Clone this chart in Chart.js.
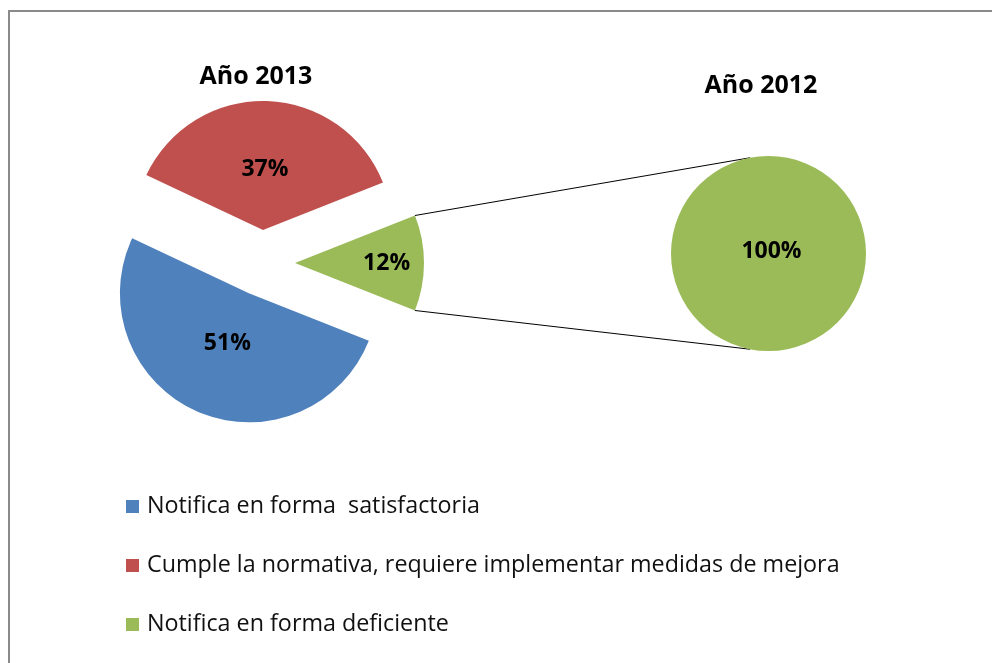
<!DOCTYPE html>
<html>
<head>
<meta charset="utf-8">
<script src="https://cdn.jsdelivr.net/npm/chart.js@4.4.1/dist/chart.umd.min.js"></script>
<style>
  html, body { margin: 0; padding: 0; background: #fff; width: 992px; height: 663px; overflow: hidden; }
  canvas { position: absolute; left: 0; top: 0; }
  .title { position: absolute; font: bold 25px "Open Sans", sans-serif; line-height: 30px; color: #000; transform: translateX(-50%); white-space: nowrap; }
  .item { position: absolute; left: 147px; font: 23.3px "Open Sans", sans-serif; line-height: 26px; color: #111; white-space: pre; }
  .mark { position: absolute; left: 126px; width: 13px; height: 13px; }
</style>
</head>
<body>
<canvas id="pie2013" width="992" height="663"></canvas>
<canvas id="pie2012" width="992" height="663"></canvas>
<div id="titles"></div>
<div id="legend"></div>
<script>
// data
const categories = ['Notifica en forma  satisfactoria', 'Cumple la normativa, requiere implementar medidas de mejora', 'Notifica en forma deficiente'];
const values2013 = [51, 37, 12];
const categories2012 = ['Notifica en forma deficiente'];
const values2012 = [100];
const titles = ['Año 2013', 'Año 2012'];
const colors = ['#4F81BD', '#C0504D', '#9BBB59'];

const explode = 33;           // px each slice of 2013 is pulled out
const labelFrac = [0.42, 0.47, 0.71];
const linkAngle = 100.9 * Math.PI / 180;

// grey chart-area frame (only top and left edges are inside the picture)
const framePlugin = {
  id: 'frame',
  beforeDraw(chart) {
    const ctx = chart.ctx;
    ctx.save();
    ctx.strokeStyle = '#8a8a8a';
    ctx.lineWidth = 2;
    ctx.beginPath();
    ctx.moveTo(9, chart.height);
    ctx.lineTo(9, 11);
    ctx.lineTo(chart.width, 11);
    ctx.stroke();
    ctx.restore();
  }
};

// pull slices out from the centre (like Excel's exploded pie)
const explodePlugin = {
  id: 'explode',
  afterDatasetUpdate(chart, args) {
    args.meta.data.forEach(arc => {
      const mid = (arc.startAngle + arc.endAngle) / 2;
      arc.x += Math.cos(mid) * explode;
      arc.y += Math.sin(mid) * explode;
    });
  }
};

const pctLabels = {
  id: 'pctLabels',
  afterDatasetsDraw(chart, args, opts) {
    const ctx = chart.ctx;
    const data = chart.data.datasets[0].data;
    const total = data.reduce((a, b) => a + b, 0);
    ctx.save();
    ctx.font = 'bold 23px "Open Sans"';
    ctx.fillStyle = '#000';
    ctx.textAlign = 'center';
    ctx.textBaseline = 'middle';
    chart.getDatasetMeta(0).data.forEach((arc, i) => {
      const mid = (arc.startAngle + arc.endAngle) / 2;
      const d = arc.outerRadius * (opts.frac ? opts.frac[i] : 0);
      const txt = Math.round(data[i] / total * 100) + '%';
      ctx.fillText(txt, arc.x + Math.cos(mid) * d + (opts.dx || 0), arc.y + Math.sin(mid) * d + (opts.dy || 0));
    });
    ctx.restore();
  }
};

const chart1 = new Chart(document.getElementById('pie2013'), {
  type: 'pie',
  data: {
    labels: categories,
    datasets: [{
      data: values2013,
      backgroundColor: colors,
      borderWidth: 0,
      hoverBorderWidth: 0,
      hoverOffset: 0
    }]
  },
  options: {
    responsive: false,
    animation: false,
    events: [],
    rotation: 111.6,
    layout: { padding: { left: 133, top: 134, right: 601, bottom: 271 } },
    plugins: {
      legend: { display: false },
      tooltip: { enabled: false },
      pctLabels: { frac: labelFrac }
    }
  },
  plugins: [framePlugin, explodePlugin, pctLabels]
});

// lines from the small slice to the second pie
const connectors = {
  id: 'connectors',
  beforeDatasetsDraw(chart) {
    const slice = chart1.getDatasetMeta(0).data[2];
    const big = chart.getDatasetMeta(0).data[0];
    const ctx = chart.ctx;
    const ends = [
      [slice.startAngle, -linkAngle],
      [slice.endAngle, linkAngle]
    ];
    ctx.save();
    ctx.strokeStyle = '#000';
    ctx.lineWidth = 1;
    ends.forEach(([a, b]) => {
      ctx.beginPath();
      ctx.moveTo(slice.x + Math.cos(a) * slice.outerRadius, slice.y + Math.sin(a) * slice.outerRadius);
      ctx.lineTo(big.x + Math.cos(b) * big.outerRadius, big.y + Math.sin(b) * big.outerRadius);
      ctx.stroke();
    });
    ctx.restore();
  }
};

const chart2 = new Chart(document.getElementById('pie2012'), {
  type: 'pie',
  data: {
    labels: categories2012,
    datasets: [{
      data: values2012,
      backgroundColor: colors[2],
      borderWidth: 0,
      hoverBorderWidth: 0,
      hoverOffset: 0
    }]
  },
  options: {
    responsive: false,
    animation: false,
    events: [],
    layout: { padding: { left: 671, top: 156, right: 126, bottom: 312 } },
    plugins: {
      legend: { display: false },
      tooltip: { enabled: false },
      pctLabels: { frac: [0], dx: 3, dy: -2 }
    }
  },
  plugins: [connectors, pctLabels]
});

// titles
const titleBox = document.getElementById('titles');
[[256, 59], [761, 68]].forEach(([x, y], i) => {
  const t = document.createElement('div');
  t.className = 'title';
  t.style.left = x + 'px';
  t.style.top = y + 'px';
  t.textContent = titles[i];
  titleBox.appendChild(t);
});

// legend
const legend = document.getElementById('legend');
categories.forEach((name, i) => {
  const base = 513 + i * 59;
  const m = document.createElement('div');
  m.className = 'mark';
  m.style.top = (base - 13) + 'px';
  m.style.background = colors[i];
  legend.appendChild(m);
  const t = document.createElement('div');
  t.className = 'item';
  t.style.top = (base - 22) + 'px';
  t.textContent = name;
  legend.appendChild(t);
});
</script>
</body>
</html>
